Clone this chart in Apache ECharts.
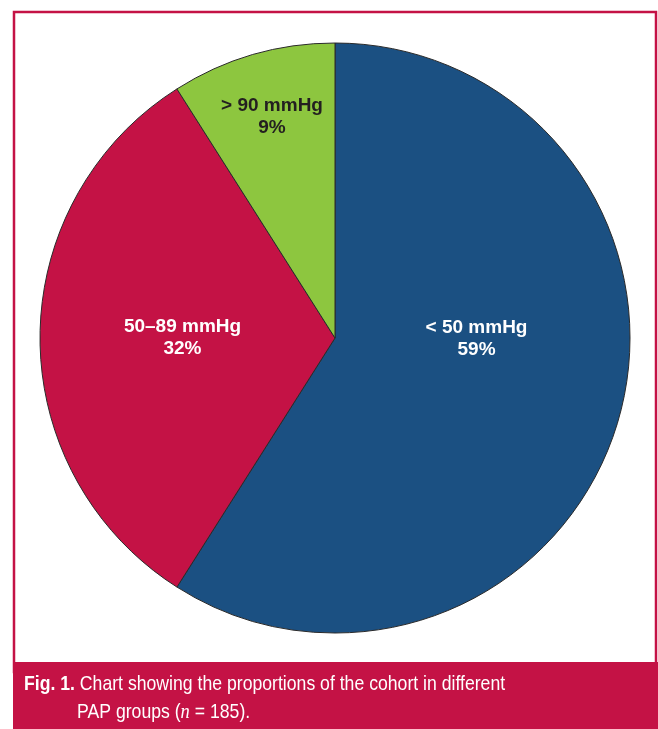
<!DOCTYPE html>
<html>
<head>
<meta charset="utf-8">
<script src="https://cdn.jsdelivr.net/npm/echarts@6/dist/echarts.min.js"></script>
<style>
  html, body { margin: 0; padding: 0; background: #fff; }
  #panel { width: 658px; height: 729px; }
</style>
</head>
<body>
<div id="panel"></div>
<script>
// 数据
var categories = ['< 50 mmHg', '50–89 mmHg', '> 90 mmHg'];
var shares = [59, 32, 9];
var colors = ['#1b5082', '#c41245', '#8dc63f'];
var labelColors = ['#ffffff', '#ffffff', '#231f20'];
var captionBold = 'Fig. 1.';
var captionLine1 = ' Chart showing the proportions of the cohort in different';
var captionLine2 = 'PAP groups (';
var captionN = 'n';
var captionEnd = ' = 185).';

var crimson = '#c41245';
// 标签偏移（相对于默认 inside 位置）
var labelShift = [[-3, -41], [-2, 0], [-21, -77]];
var capFont = 'Liberation Sans, Arial, sans-serif';

var chartDom = document.getElementById('panel');
var myChart = echarts.init(chartDom);

var pieData = categories.map(function (name, i) {
    return {
        name: name,
        value: shares[i],
        itemStyle: { color: colors[i] },
        label: { color: labelColors[i] }
    };
});

var option = {
    animation: false,
    graphic: [
        {
            type: 'rect',
            shape: { x: 14, y: 12, width: 642, height: 660 },
            style: { fill: 'none', stroke: crimson, lineWidth: 2.5 },
            z: 1
        },
        {
            type: 'rect',
            shape: { x: 13, y: 662, width: 645, height: 67 },
            style: { fill: crimson },
            z: 2
        },
        {
            type: 'text',
            x: 24,
            y: 674,
            scaleX: 0.84,
            z: 3,
            style: {
                x: 0, y: 0,
                verticalAlign: 'top',
                text: '{b|' + captionBold + '}{r|' + captionLine1 + '}',
                rich: {
                    b: { fontFamily: capFont, fontWeight: 'bold', fontSize: 21, fill: '#fff' },
                    r: { fontFamily: capFont, fontSize: 21, fill: '#fff' }
                }
            }
        },
        {
            type: 'text',
            x: 77,
            y: 701,
            scaleX: 0.84,
            z: 3,
            style: {
                x: 0, y: 0,
                verticalAlign: 'top',
                text: '{r|' + captionLine2 + '}{i|' + captionN + '}{r|' + captionEnd + '}',
                rich: {
                    r: { fontFamily: capFont, fontSize: 21, fill: '#fff' },
                    i: { fontFamily: 'Liberation Serif, serif', fontStyle: 'italic', fontSize: 22, fill: '#fff' }
                }
            }
        }
    ],
    series: [
        {
            type: 'pie',
            center: [335, 338],
            radius: [0, 295],
            startAngle: 90,
            clockwise: true,
            silent: true,
            itemStyle: { borderColor: '#2a2a2a', borderWidth: 1 },
            label: {
                show: true,
                position: 'inside',
                formatter: '{b}\n{c}%',
                fontFamily: 'Liberation Sans, Arial, sans-serif',
                fontWeight: 'bold',
                fontSize: 19,
                lineHeight: 22
            },
            labelLayout: function (params) {
                var s = labelShift[params.dataIndex];
                return { dx: s[0], dy: s[1] };
            },
            labelLine: { show: false },
            data: pieData
        }
    ]
};

myChart.setOption(option);
</script>
</body>
</html>
